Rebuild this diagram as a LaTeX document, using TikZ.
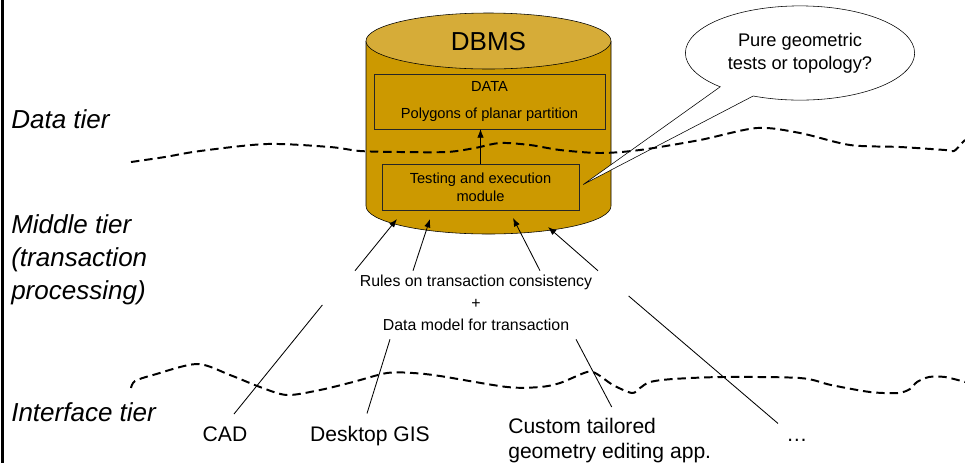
\documentclass[tikz,border=0pt]{standalone}
\usepackage{fontspec}
\setmainfont{Liberation Sans}
\usetikzlibrary{arrows.meta,calc,shapes.callouts}

\definecolor{dbside}{RGB}{204,153,0}
\definecolor{dbtop}{RGB}{214,172,56}

\tikzset{
	tier/.style={inner sep=0pt, align=left, font=\fontsize{18.5}{23.5}\selectfont\itshape},
	inbox/.style={draw=black!85, fill=dbside, inner sep=0pt, align=center, font=\fontsize{10.4}{13}\selectfont},
	app/.style={anchor=base, inner sep=0pt, font=\fontsize{15}{17.5}\selectfont},
	tierline/.style={line width=1.4pt, dash pattern=on 6pt off 3.5pt},
	link/.style={line width=0.6pt},
}

\begin{document}
\begin{tikzpicture}[x=0.025cm, y=-0.025cm, >={Latex[length=6pt,width=4.5pt]}]
	\useasboundingbox (0,0) rectangle (965,463);
	
	% 左侧竖线
	\draw[line width=2pt] (2.5,0) -- (2.5,463);
	
	% 数据库圆柱：侧面、底边和顶面
	\coordinate (dbbase) at (488.5,206);
	\fill[dbside] (366,41) -- (366,206) arc[start angle=180, end angle=0, x radius=122.5, y radius=28] -- (611,41) -- cycle;
	\draw[thin] (366,41) -- (366,206) arc[start angle=180, end angle=0, x radius=122.5, y radius=28] -- (611,41);
	\filldraw[fill=dbtop, draw=black, thin] (488.5,41) ellipse [x radius=122.5, y radius=28];
	\node (dbms) at (488.5,42) {\fontsize{18.5}{22}\selectfont DBMS};
	
	% 圆柱内的两个框
	\node[inbox, minimum width=164pt, minimum height=39pt] (data) at (489.5,101.5) {DATA\\[6pt]Polygons of planar partition};
	\node[inbox, minimum width=140pt, minimum height=33pt] (test) at (480.5,187.5) {Testing and execution\\module};
	\draw[->] (test.north) -- (test.north |- data.south);
	
	% 右上角的问号气泡
	\node[ellipse callout, draw, fill=white, thin, minimum width=163pt, minimum height=67pt, inner sep=0pt,
		align=center, font=\fontsize{13}{16.5}\selectfont,
		callout absolute pointer={($(test.east)+(4,-3)$)}, callout pointer arc=20] (ask) at (800,53) {Pure geometric\\tests or topology?};
	
	% 两条分层虚线
	\draw[tierline] plot[smooth] coordinates {(131,162) (165,157) (200,151) (267,144) (330,147) (360,151) (400,152) (447,152) (475,148) (500,143) (530,145) (560,150) (600,153) (640,150) (700,140) (757,128) (800,133) (850,145) (900,147) (945,150) (954,151) (962,143) (965,140)};
	\draw[tierline] plot[smooth] coordinates {(131,388) (135,381) (153,375) (197,364) (230,375) (260,387) (287,395) (320,390) (353,382) (387,373) (413,373) (440,376) (507,387) (540,387) (560,383) (587,372) (597,374) (613,385) (632,393) (640,388) (650,382) (673,379) (723,377) (800,378) (831,385) (870,392) (898,393) (910,389) (917,382) (929,377) (945,377) (965,382)};
	
	% 左侧的层名
	\node[tier, anchor=base west] (datatier) at (11,128) {Data tier};
	\node[tier, anchor=north west] (midtier) at (11,214) {Middle tier\\(transaction\\processing)};
	\node[tier, anchor=base west] (uitier) at (11,421) {Interface tier};
	
	% 中间层的说明文字
	\node[align=center, inner sep=3pt, font=\fontsize{11.3}{15.6}\selectfont] (rules) at (476,303) {Rules on transaction consistency\\+\\Data model for transaction};
	\foreach \dx/\tx/\ty in {-121/-91.5/13, -63/-58.5/13, 64/24.5/12, 122/59.5/21}
		\draw[->, link] ($(rules.north)+(\dx,0)$) -- ($(dbbase)+(\tx,\ty)$);
	
	% 底部的各种客户端
	\node[app] (cad) at (225,441) {CAD};
	\node[app] (gis) at (370,441) {Desktop GIS};
	\node[app, anchor=north west, align=left] (custom) at (508,418) {Custom tailored\\geometry editing app.};
	\node[app] (dots) at (797,441) {…};
	
	\draw[link] ($(rules.west)+(-33,2)$) -- ($(cad.north)+(9,-12)$);
	\draw[link] ($(rules.south)+(-86,4)$) -- ($(gis.north)+(-3,-12)$);
	\draw[link] ($(rules.south)+(100,4)$) -- ($(custom.north)+(2,-11)$);
	\draw[link] ($(rules.east)+(32,-7)$) -- ($(dots.north)+(-19,-15)$);
\end{tikzpicture}
\end{document}
